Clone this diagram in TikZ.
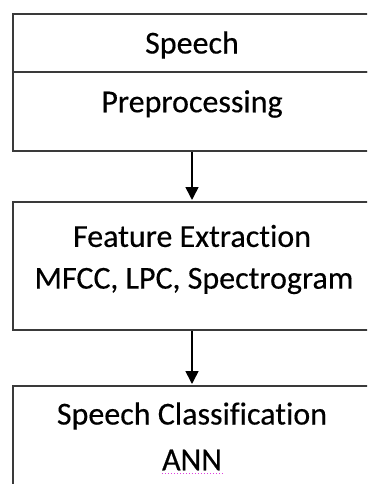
\documentclass[tikz,border=0pt]{standalone}
\usepackage{fontspec}
\setmainfont{Carlito}[Ligatures=NoCommon, FakeBold=0.35]
\usetikzlibrary{arrows.meta}
\definecolor{linegray}{HTML}{3A3A3A}
\definecolor{squig}{HTML}{E040E0}
\tikzset{
  boxstyle/.style={draw=linegray, line width=2.2pt, rectangle, inner sep=0pt, anchor=north west},
  lbl/.style={font=\fontsize{32}{38}\selectfont, text=black, inner sep=0pt},
  arr/.style={draw=black, line width=1.6pt, -{Triangle[width=13pt,length=13pt]}, shorten >=1pt},
}
\begin{document}
\begin{tikzpicture}[x=1pt,y=-1pt]
\useasboundingbox (0,0) rectangle (367,484);
\clip (0,0) rectangle (367,484);
% boxes
\node[boxstyle, minimum width=400pt, minimum height=58pt] (sp) at (12,13) {};
\node[boxstyle, minimum width=400pt, minimum height=79pt] (pre) at (12,71) {};
\node[boxstyle, minimum width=400pt, minimum height=128pt] (feat) at (12,201) {};
\node[boxstyle, minimum width=400pt, minimum height=140pt] (cls) at (12,385) {};
% texts
\node[lbl] (t1) at (192,45) {Speech};
\node[lbl] (t2) at (192,104) {Preprocessing};
\node[lbl] (t3) at (192,236) {Feature Extraction};
\node[lbl] (t4) at (194,281) {MFCC, LPC, Spectrogram};
\node[lbl] (t5) at (192,416) {Speech Classification};
\node[lbl] (t6) at (192,460) {ANN};
\draw[squig, line width=1pt, dotted] ([yshift=-3pt]t6.south west) -- ([yshift=-3pt]t6.south east);
% arrows
\coordinate (ax) at (192,0);
\draw[arr] (pre.south -| ax) -- (feat.north -| ax);
\draw[arr] (feat.south -| ax) -- (cls.north -| ax);
\end{tikzpicture}
\end{document}
